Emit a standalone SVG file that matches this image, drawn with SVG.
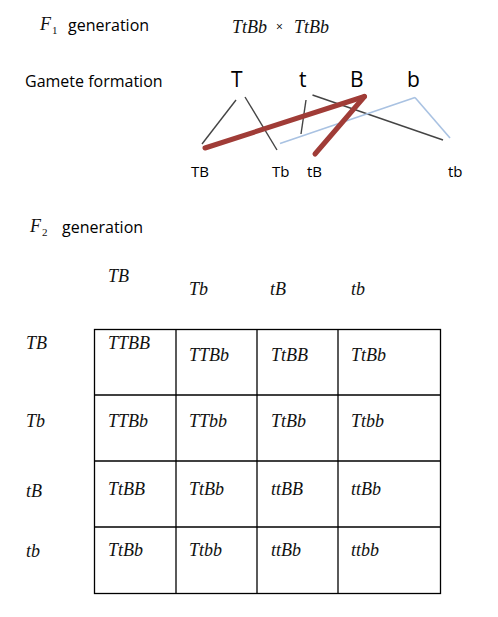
<svg xmlns="http://www.w3.org/2000/svg" width="498" height="617" viewBox="0 0 498 617">
<style>
.sans{font-family:"Open Sans","Liberation Sans",sans-serif;fill:#000}
.it{font-family:"Liberation Serif","Times New Roman",serif;font-style:italic;font-size:18px;fill:#111}
.sub{font-family:"Liberation Serif",serif;font-size:11px;fill:#111}
.big{font-family:"Open Sans","Liberation Sans",sans-serif;font-size:21px;fill:#000}
.gam{font-family:"Open Sans","Liberation Sans",sans-serif;font-size:15px;fill:#000}
.blk{stroke:#444;stroke-width:1.4;fill:none}
.red{stroke:#a03c37;stroke-width:5;fill:none;stroke-linecap:round}
.blu{stroke:#a9c2e2;stroke-width:1.6;fill:none}
.grid{stroke:#000;stroke-width:1.3;fill:none}
</style>
<rect width="498" height="617" fill="#fff"/>
<g id="f1-title">
<text class="it" x="40" y="30">F</text><text class="sub" x="52" y="34">1</text>
<text class="sans" font-size="16" x="68" y="31">generation</text>
</g>
<g id="cross">
<text class="it" x="232" y="33">TtBb</text>
<text class="sans" font-size="12" x="276" y="31" fill="#334">×</text>
<text class="it" x="294" y="33">TtBb</text>
</g>
<g id="gamete-label"><text class="sans" font-size="16" x="25" y="87">Gamete formation</text></g>
<g id="alleles">
<text class="big" x="231" y="87">T</text>
<text class="big" x="299" y="87">t</text>
<text class="big" x="350" y="87">B</text>
<text class="big" x="407" y="87">b</text>
</g>
<g id="connectors">
<line class="blk" x1="236" y1="100" x2="202" y2="144"/>
<line class="blk" x1="245" y1="97" x2="277" y2="150"/>
<line class="blk" x1="306" y1="100" x2="301" y2="134"/>
<line class="blk" x1="312.5" y1="95" x2="443" y2="140"/>
<line class="blu" x1="280" y1="143.5" x2="415" y2="97.5"/>
<line class="blu" x1="415" y1="97.5" x2="450" y2="138"/>
<line class="red" x1="205" y1="148" x2="364.5" y2="96.5"/>
<line class="red" x1="364.5" y1="96.5" x2="315" y2="154"/>
</g>
<g id="gametes">
<text class="gam" x="191" y="177">TB</text>
<text class="gam" x="272" y="177">Tb</text>
<text class="gam" x="307" y="177">tB</text>
<text class="gam" x="448" y="177">tb</text>
</g>
<g id="f2-title">
<text class="it" x="30" y="232">F</text><text class="sub" x="42" y="236">2</text>
<text class="sans" font-size="16" x="62" y="233">generation</text>
</g>
<g id="col-headers">
<text class="it" x="108" y="282">TB</text>
<text class="it" x="189" y="295">Tb</text>
<text class="it" x="270" y="295">tB</text>
<text class="it" x="351" y="295">tb</text>
</g>
<g id="row-headers">
<text class="it" x="26" y="349">TB</text>
<text class="it" x="26" y="427">Tb</text>
<text class="it" x="26" y="497">tB</text>
<text class="it" x="26" y="557">tb</text>
</g>
<g id="punnett-grid">
<rect class="grid" x="94.5" y="329.5" width="346" height="264"/>
<line class="grid" x1="176" y1="329.5" x2="176" y2="593.5"/>
<line class="grid" x1="257" y1="329.5" x2="257" y2="593.5"/>
<line class="grid" x1="338" y1="329.5" x2="338" y2="593.5"/>
<line class="grid" x1="94.5" y1="395" x2="440.5" y2="395"/>
<line class="grid" x1="94.5" y1="461" x2="440.5" y2="461"/>
<line class="grid" x1="94.5" y1="527" x2="440.5" y2="527"/>
</g>
<g id="cells">
<text class="it" x="108" y="349">TTBB</text>
<text class="it" x="189" y="361">TTBb</text>
<text class="it" x="271" y="361">TtBB</text>
<text class="it" x="351" y="361">TtBb</text>
<text class="it" x="108" y="427">TTBb</text>
<text class="it" x="189" y="427">TTbb</text>
<text class="it" x="271" y="427">TtBb</text>
<text class="it" x="351" y="427">Ttbb</text>
<text class="it" x="108" y="495">TtBB</text>
<text class="it" x="189" y="495">TtBb</text>
<text class="it" x="271" y="495">ttBB</text>
<text class="it" x="351" y="495">ttBb</text>
<text class="it" x="108" y="556">TtBb</text>
<text class="it" x="189" y="556">Ttbb</text>
<text class="it" x="271" y="556">ttBb</text>
<text class="it" x="351" y="556">ttbb</text>
</g>
</svg>
